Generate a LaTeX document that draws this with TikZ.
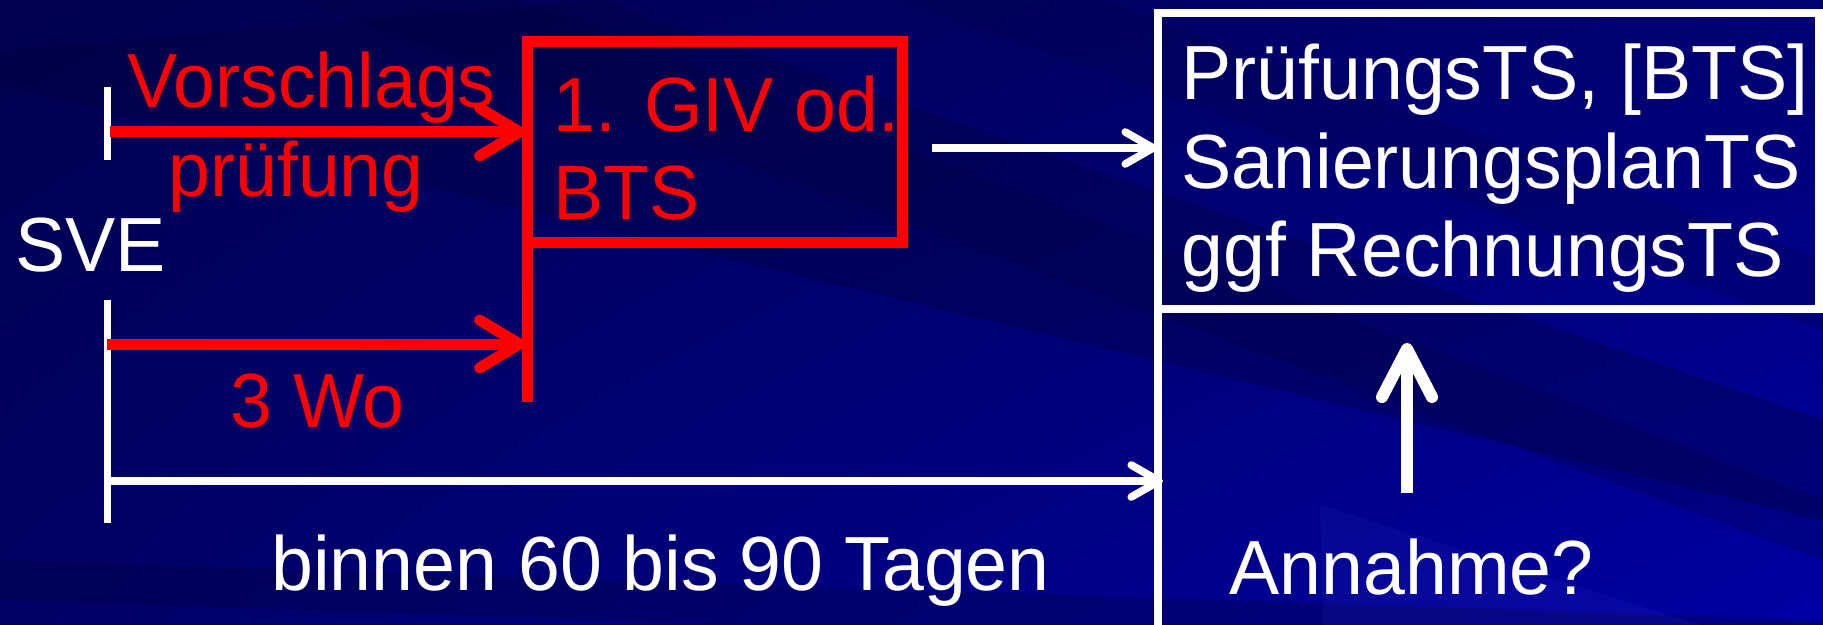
\documentclass[tikz,border=0pt]{standalone}
\usepackage{fontspec}
\setmainfont[FakeStretch=0.98]{Liberation Sans}
\usetikzlibrary{arrows.meta,shadings}
\definecolor{bgUL}{RGB}{0,0,78}
\definecolor{bgUR}{RGB}{0,0,112}
\definecolor{bgLL}{RGB}{0,0,100}
\definecolor{bgLR}{RGB}{0,0,165}
\definecolor{streakdark}{RGB}{0,0,60}
\definecolor{streaklight}{RGB}{60,60,200}
\definecolor{redc}{RGB}{255,0,0}
\begin{document}
\begin{tikzpicture}[x=0.5pt,y=-0.5pt,
  lbl/.style={anchor=base west, inner sep=0pt, font=\fontsize{38.4pt}{44.5pt}\selectfont},
  redtxt/.style={lbl, text=redc},
  whitetxt/.style={lbl, text=white},
  redline/.style={draw=redc, line width=5.5pt},
  redarrow/.style={draw=redc, line width=5.5pt, -{Straight Barb[length=20pt, width=24pt, round]}},
  whiteline/.style={draw=white, line width=3.5pt},
  whitearrow/.style={draw=white, line width=3.8pt, -{Straight Barb[length=14pt, width=16pt, round]}},
  bigarrow/.style={draw=white, line width=6pt, -{Straight Barb[length=24pt, width=25pt, round]}}
]
\useasboundingbox (0,0) rectangle (1823,625);
% background
\shade[upper left=bgUL, upper right=bgUR, lower left=bgLL, lower right=bgLR] (0,0) rectangle (1823,625);
\begin{scope}
\clip (0,0) rectangle (1823,625);
\fill[streakdark, opacity=0.35] (-100,60) -- (600,0) -- (1823,420) -- (1823,520) -- cycle;
\fill[streakdark, opacity=0.25] (300,0) -- (520,0) -- (1823,500) -- (1823,560) -- cycle;
\fill[streakdark, opacity=0.3] (0,560) -- (0,600) -- (1823,660) -- (1823,620) -- cycle;
\fill[streaklight, opacity=0.12] (1320,505) -- (1323,625) -- (1700,625) -- cycle;
\fill[streakdark, opacity=0.2] (900,0) -- (1100,0) -- (1823,260) -- (1823,330) -- cycle;
\end{scope}

% coordinates
\coordinate (t1a) at (107,87);
\coordinate (t1b) at (107,160);
\coordinate (t2a) at (107,300);
\coordinate (t2b) at (107,523);
\coordinate (r1s) at (110,132);
\coordinate (r1e) at (525,132);
\coordinate (r2s) at (107,344);
\coordinate (r2e) at (525,344);
\coordinate (bxa) at (527,42);
\coordinate (bxb) at (902,243);
\coordinate (rvb) at (527,402);
\coordinate (rva) at (527,243);
\coordinate (w1s) at (932,148);
\coordinate (w1e) at (1157,148);
\coordinate (w2s) at (111,481);
\coordinate (w2e) at (1163,481);
\coordinate (ups) at (1407,493);
\coordinate (upe) at (1407,343);
\coordinate (wbBL) at (1158,640);
\coordinate (wbTL) at (1158,12.7);
\coordinate (wbTR) at (1819,12.7);
\coordinate (wbDR) at (1819,309);
\coordinate (wbDL) at (1158,309);

% white ticks
\draw[whiteline] (t1a) -- (t1b);
\draw[whiteline] (t2a) -- (t2b);

% red box and line
\draw[redline] (bxa) rectangle (bxb);
\draw[redline] (rva) -- (rvb);

% red arrows
\draw[redarrow] (r1s) -- (r1e);
\draw[redarrow] (r2s) -- (r2e);

% white box
\draw[draw=white, line width=4pt] (wbBL) -- (wbTL) -- (wbTR) -- (wbDR) -- (wbDL);

% white arrows
\draw[whitearrow] (w1s) -- (w1e);
\draw[whitearrow] (w2s) -- (w2e);
\draw[bigarrow] (ups) -- (upe);

% texts
\node[redtxt] (vor) at (127,108) {Vorschlags};
\node[redtxt] (pru) at (168,197) {prüfung};
\node[whitetxt] (sve) at (15,272) {SVE};
\node[redtxt] (giv) at (553,132) {1. GIV od.};
\node[redtxt] (bts) at (553,220) {BTS};
\node[redtxt] (wo) at (230,427) {3 Wo};
\node[whitetxt] (bin) at (271,590) {binnen 60 bis 90 Tagen};
\node[whitetxt] (l1) at (1181,100) {PrüfungsTS, [BTS]};
\node[whitetxt] (l2) at (1181,189) {SanierungsplanTS};
\node[whitetxt] (l3) at (1181,277) {ggf RechnungsTS};
\node[whitetxt] (ann) at (1229,594) {Annahme?};
\end{tikzpicture}
\end{document}
